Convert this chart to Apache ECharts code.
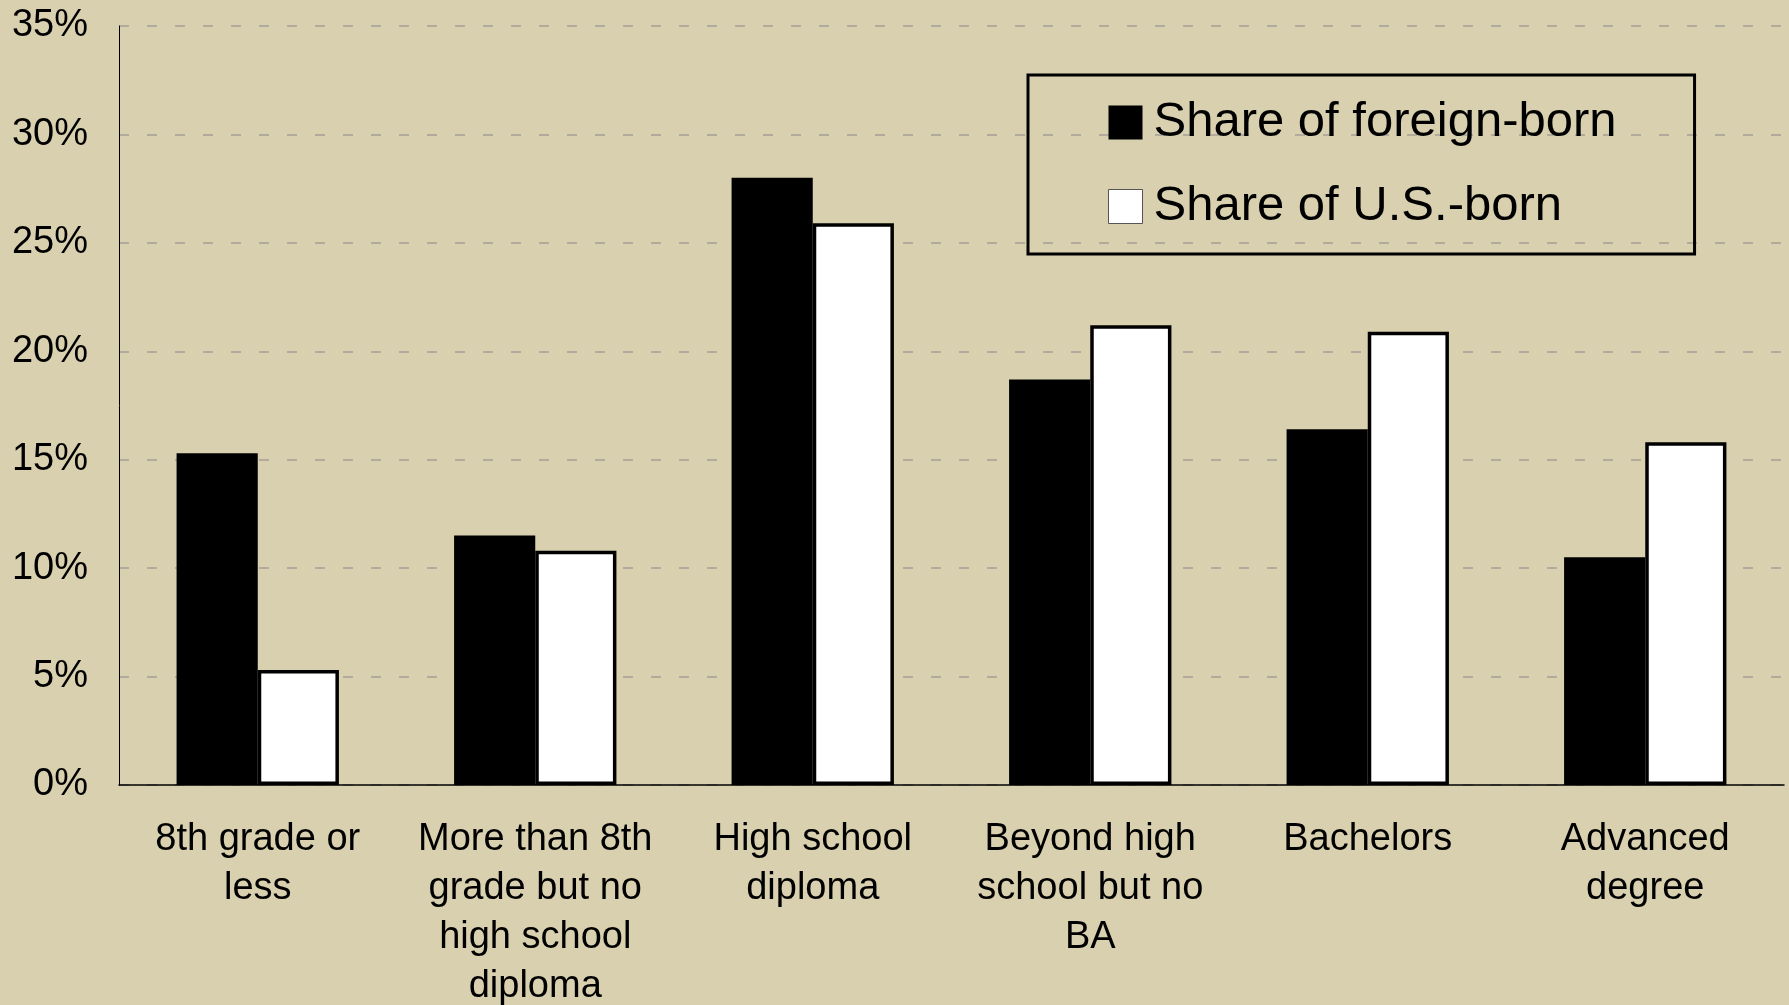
<!DOCTYPE html>
<html>
<head>
<meta charset="utf-8">
<script src="https://cdn.jsdelivr.net/npm/echarts@6/dist/echarts.min.js"></script>
<style>
html,body{margin:0;padding:0;background:#d8d0ae;}
#chart{width:1789px;height:1005px;}
</style>
</head>
<body>
<div id="chart"></div>
<script>
var categories = [
  "8th grade or\nless",
  "More than 8th\ngrade but no\nhigh school\ndiploma",
  "High school\ndiploma",
  "Beyond high\nschool but no\nBA",
  "Bachelors",
  "Advanced\ndegree"
];
var seriesNames = ["Share of foreign-born", "Share of U.S.-born"];
var foreignBorn = [15.3, 11.5, 28.0, 18.7, 16.4, 10.5];
var usBorn = [5.3, 10.8, 25.9, 21.2, 20.9, 15.8];
var yTicks = { min: 0, max: 35, interval: 5 };

var FONT = "'Liberation Sans', Arial, sans-serif";
var chart = echarts.init(document.getElementById('chart'), null, { renderer: 'canvas' });
chart.setOption({
  backgroundColor: '#d8d0ae',
  animation: false,
  textStyle: { fontFamily: FONT },
  grid: { left: 119, right: 5, top: 26, bottom: 220, containLabel: false, outerBoundsMode: 'none' },
  legend: {
    orient: 'vertical',
    left: 1028,
    top: 75,
    padding: [23, 78, 23, 80],
    itemGap: 35,
    itemWidth: 34,
    itemHeight: 34,
    icon: 'rect',
    borderColor: '#000',
    borderWidth: 3,
    backgroundColor: 'transparent',
    textStyle: { fontSize: 49, color: '#000', fontFamily: FONT, lineHeight: 49, padding: [0, 0, 0, 6] },
    data: [
      { name: seriesNames[0], icon: 'rect', itemStyle: { color: '#000', borderWidth: 0 } },
      { name: seriesNames[1], icon: 'rect', itemStyle: { color: '#fff', borderColor: '#555', borderWidth: 1 } }
    ]
  },
  xAxis: {
    type: 'category',
    data: categories,
    axisLine: { show: true, lineStyle: { color: '#000', width: 1.5 } },
    axisTick: { show: false },
    axisLabel: { fontSize: 38, color: '#000', fontFamily: FONT, lineHeight: 49, margin: 30, interval: 0 }
  },
  yAxis: {
    type: 'value',
    min: yTicks.min,
    max: yTicks.max,
    interval: yTicks.interval,
    axisLine: { show: true, lineStyle: { color: '#000', width: 1 } },
    axisTick: { show: false },
    axisLabel: { formatter: '{value}%', fontSize: 38, color: '#000', fontFamily: FONT, margin: 31 },
    splitLine: { show: true, lineStyle: { color: '#a39f96', width: 1.5, type: [10, 18] } }
  },
  series: [
    {
      name: seriesNames[0],
      type: 'bar',
      data: foreignBorn,
      barGap: '0%',
      barCategoryGap: '41.5%',
      itemStyle: { color: '#000', borderColor: '#000', borderWidth: 0 }
    },
    {
      name: seriesNames[1],
      type: 'bar',
      data: usBorn,
      barGap: '0%',
      barCategoryGap: '41.5%',
      itemStyle: { color: '#fff', borderColor: '#000', borderWidth: 3.5 }
    }
  ]
});
</script>
</body>
</html>
